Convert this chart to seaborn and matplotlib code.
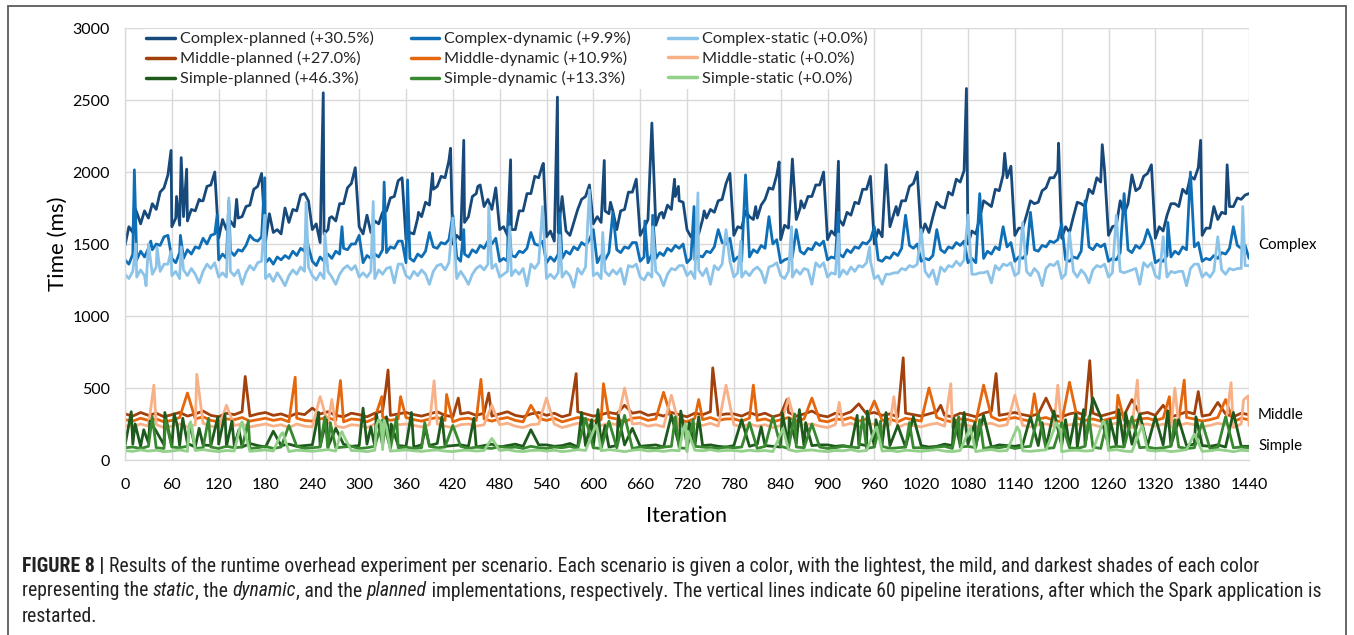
import matplotlib
matplotlib.use("Agg")
import matplotlib.pyplot as plt
import matplotlib.transforms as mtransforms
from matplotlib import font_manager
from matplotlib.patches import Rectangle
import pandas as pd
import seaborn as sns

W, H = 1354, 635

# ---------------------------------------------------------------- data
LABELS = ["Complex-planned (+30.5%)", "Complex-dynamic (+9.9%)", "Complex-static (+0.0%)",
          "Middle-planned (+27.0%)", "Middle-dynamic (+10.9%)", "Middle-static (+0.0%)",
          "Simple-planned (+46.3%)", "Simple-dynamic (+13.3%)", "Simple-static (+0.0%)"]
COLORS = ["#17497a", "#0f6fb6", "#8cc3e8",
          "#a3410c", "#e5670d", "#f8b087",
          "#1f5a1d", "#37882f", "#93d08a"]
X_TICKS = list(range(0, 1441, 60))
Y_TICKS = [0, 500, 1000, 1500, 2000, 2500, 3000]
GROUPS = ["Complex", "Middle", "Simple"]
GROUP_Y = [1495, 310, 100]

# complex series: one value every 5 iterations (0..1440)
CP_BASE = [
 1490,1620,1580,1720,1640,1730,1680,1780,1740,1860,1890,1980,
 1620,1680,1630,1690,1660,1740,1730,1810,1800,1900,1910,2000,
 1540,1670,1600,1660,1620,1680,1690,1760,1770,1880,1900,1990,
 1520,1620,1580,1600,1570,1660,1650,1740,1730,1840,1850,1800,
 1600,1640,1510,1570,1600,1690,1660,1780,1780,1890,1920,2030,
 1620,1570,1640,1580,1660,1640,1720,1730,1820,1830,1940,1960,
 1530,1580,1570,1680,1690,1790,1770,1880,1900,1970,1960,2080,
 1500,1560,1530,1650,1690,1830,1850,1910,1760,1810,1740,1890,
 1600,1620,1560,1600,1600,1730,1730,1850,1850,1970,1960,2050,
 1550,1590,1520,1580,1500,1590,1560,1650,1740,1810,1830,1910,
 1640,1690,1650,1730,1710,1730,1600,1730,1740,1860,1860,1950,
 1560,1610,1670,1660,1630,1710,1680,1770,1740,1830,1800,1790,
 1600,1550,1580,1570,1670,1680,1740,1720,1800,1810,1920,1990,
 1560,1620,1610,1730,1690,1670,1680,1770,1810,1890,1880,1980,
 1530,1630,1610,1690,1670,1750,1750,1830,1830,1910,1910,2000,
 1530,1590,1560,1670,1630,1700,1700,1790,1780,1880,1880,1970,
 1500,1600,1550,1640,1620,1710,1700,1800,1800,1900,1920,2000,
 1560,1640,1580,1690,1670,1760,1750,1860,1840,1950,1930,2010,
 1500,1590,1570,1680,1670,1780,1760,1880,1870,1980,1960,2040,
 1560,1610,1610,1700,1710,1780,1790,1870,1890,1960,1960,2010,
 1540,1620,1580,1690,1660,1780,1760,1880,1850,1960,1930,2010,
 1560,1620,1630,1700,1710,1780,1790,1870,1890,1970,1990,2050,
 1540,1620,1590,1700,1670,1780,1760,1880,1850,1970,1950,2030,
 1560,1610,1610,1670,1670,1720,1710,1760,1760,1820,1810,1840,
 1850]
CP_SPIKES = {12: 1760, 59: 2150, 66: 1830, 72: 2100, 79: 2020, 97: 1800, 143: 1810,
             185: 1710, 205: 1750, 254: 2550, 262: 1680, 310: 1700, 376: 1720,
             394: 1990, 417: 2165, 434: 2220, 452: 1900, 494: 2085, 505: 1730,
             536: 2060, 554: 2520, 560: 1830, 614: 2080, 622: 1790, 675: 2340,
             688: 1720, 704: 1950, 709: 1900, 742: 1730, 808: 1760, 838: 2070,
             855: 2090, 866: 1800, 914: 2075, 925: 1720, 975: 2050, 988: 1760,
             1040: 1790, 1078: 2580, 1100: 1800, 1127: 2130, 1160: 1800, 1196: 2200,
             1220: 1790, 1252: 2190, 1275: 1800, 1290: 1980, 1340: 1780, 1378: 2220,
             1395: 1760, 1412: 2050}

CD_BASE = [
 1390,1360,1430,1390,1450,1410,1470,1460,1500,1490,1550,1560,
 1400,1370,1440,1400,1460,1430,1480,1470,1520,1500,1560,1570,
 1390,1430,1400,1450,1420,1460,1450,1490,1480,1530,1520,1550,
 1370,1400,1360,1410,1390,1420,1400,1450,1420,1470,1450,1480,
 1380,1350,1410,1380,1430,1400,1450,1430,1470,1460,1500,1500,
 1390,1370,1420,1400,1430,1410,1460,1440,1480,1470,1520,1520,
 1370,1400,1380,1430,1410,1450,1440,1480,1470,1510,1500,1530,
 1380,1410,1380,1430,1410,1460,1440,1490,1470,1520,1500,1540,
 1380,1400,1380,1420,1410,1450,1440,1470,1460,1500,1490,1520,
 1370,1410,1380,1430,1400,1450,1430,1480,1460,1510,1490,1530,
 1390,1370,1420,1390,1440,1410,1460,1440,1480,1470,1510,1510,
 1380,1410,1370,1430,1400,1440,1420,1470,1450,1490,1470,1500,
 1370,1400,1390,1420,1410,1450,1440,1480,1470,1510,1500,1540,
 1380,1410,1380,1430,1410,1460,1440,1490,1470,1510,1500,1530,
 1370,1390,1400,1410,1400,1450,1430,1470,1460,1510,1490,1520,
 1390,1410,1400,1430,1410,1460,1440,1480,1470,1510,1500,1530,
 1360,1390,1380,1410,1400,1440,1420,1470,1450,1490,1470,1500,
 1380,1400,1390,1420,1410,1460,1440,1480,1470,1510,1490,1520,
 1370,1400,1370,1420,1400,1450,1430,1480,1460,1500,1480,1510,
 1380,1410,1400,1430,1420,1460,1450,1490,1480,1520,1510,1530,
 1360,1390,1380,1410,1400,1450,1430,1480,1460,1500,1480,1500,
 1380,1400,1390,1440,1410,1460,1440,1490,1470,1510,1500,1530,
 1370,1390,1380,1420,1410,1450,1430,1480,1460,1500,1480,1510,
 1380,1400,1390,1420,1400,1440,1430,1470,1450,1490,1470,1490,
 1400]
CD_SPIKES = {12: 2015, 33: 1520, 71: 1560, 100: 1540, 118: 1700, 133: 1800, 160: 1560,
             179: 1960, 232: 1560, 278: 1620, 300: 1560, 332: 1930, 362: 1945, 390: 1580,
             420: 1700, 434: 1600, 491: 1715, 520: 1580, 557: 1715, 600: 1600, 625: 1720,
             666: 1660, 676: 1700, 729: 1760, 760: 1600, 795: 1980, 825: 1690, 860: 1600,
             914: 1720, 960: 1620, 1000: 1700, 1040: 1600, 1095: 1850, 1125: 1620,
             1160: 1720, 1200: 1640, 1230: 1800, 1280: 1850, 1310: 1600, 1336: 1650,
             1365: 2000, 1420: 1620}

CS_BASE = [
 1290,1260,1310,1270,1320,1280,1330,1290,1340,1310,1360,1360,
 1280,1310,1260,1320,1280,1330,1290,1350,1310,1360,1330,1370,
 1270,1300,1270,1310,1280,1320,1330,1300,1350,1320,1370,1380,
 1260,1290,1240,1300,1260,1310,1280,1320,1290,1340,1310,1340,
 1280,1250,1300,1260,1310,1270,1320,1290,1330,1350,1320,1350,
 1270,1300,1270,1310,1260,1320,1290,1330,1340,1300,1360,1360,
 1280,1260,1310,1280,1320,1290,1340,1310,1350,1360,1320,1370,
 1290,1260,1310,1270,1320,1290,1330,1350,1320,1360,1330,1360,
 1270,1290,1310,1280,1320,1290,1330,1320,1360,1330,1370,1370,
 1260,1290,1260,1300,1270,1310,1280,1320,1330,1290,1340,1350,
 1280,1300,1260,1310,1280,1320,1290,1330,1320,1350,1340,1360,
 1270,1250,1300,1270,1310,1280,1320,1290,1330,1320,1350,1350,
 1280,1310,1260,1320,1280,1330,1300,1350,1320,1360,1350,1380,
 1270,1300,1270,1310,1280,1320,1340,1310,1350,1340,1350,1370,
 1280,1260,1310,1270,1320,1290,1330,1320,1350,1370,1340,1370,
 1270,1300,1290,1270,1320,1290,1340,1310,1350,1340,1370,1380,
 1260,1280,1280,1290,1290,1300,1300,1330,1320,1350,1340,1360,
 1280,1310,1270,1320,1290,1340,1310,1350,1340,1380,1350,1390,
 1270,1290,1290,1300,1300,1310,1310,1350,1320,1360,1350,1370,
 1280,1300,1260,1310,1280,1330,1300,1340,1330,1360,1350,1380,
 1260,1290,1260,1310,1270,1320,1290,1330,1320,1350,1340,1360,
 1270,1300,1270,1310,1300,1310,1320,1330,1330,1370,1340,1370,
 1280,1260,1300,1270,1310,1300,1310,1310,1340,1330,1360,1360,
 1270,1300,1270,1310,1280,1320,1290,1330,1320,1330,1330,1350,
 1350]
CS_SPIKES = {14: 1500, 27: 1210, 30: 1500, 41: 1480, 59: 1450, 72: 1480, 95: 1230,
             133: 1820, 150: 1220, 179: 1700, 205: 1210, 232: 1790, 256: 1575, 270: 1220,
             318: 1795, 345: 1230, 390: 1220, 420: 1680, 440: 1220, 466: 1760, 493: 1620,
             515: 1210, 535: 1760, 557: 1560, 575: 1200, 595: 1875, 612: 1580, 640: 1220,
             676: 1620, 690: 1210, 734: 1855, 750: 1220, 770: 1600, 789: 1520, 820: 1230,
             854: 1620, 880: 1220, 914: 1570, 954: 1480, 970: 1220, 1020: 1600,
             1040: 1220, 1080: 1700, 1110: 1230, 1150: 1650, 1175: 1210, 1210: 1580,
             1235: 1230, 1270: 1700, 1300: 1220, 1330: 1550, 1360: 1210, 1400: 1550,
             1432: 1760}

# middle / simple series: one value every 10 iterations (0..1440)
MP_BASE = [
 320,305,330,310,325,300, 315,330,305,320,340,310, 300,325,315,335,305,320,
 330,310,320,300,325,315, 305,320,335,310,300,325, 315,300,325,340,310,320,
 330,315,305,320,335,310, 300,320,330,310,325,305, 320,335,310,300,320,330,
 310,325,300,315,335,320, 305,315,330,320,300,325, 335,310,320,305,330,315,
 300,325,315,335,310,320, 320,305,330,310,325,300, 315,330,305,320,340,310,
 300,325,315,335,305,320, 330,310,320,300,325,315, 305,320,335,310,300,325,
 315,300,325,340,310,320, 330,315,305,320,335,310, 300,320,330,310,325,305,
 320,335,310,300,320,330, 310,325,300,315,335,320, 305,315,330,320,300,325,
 315]
MP_SPIKES = {154: 580, 240: 360, 334: 490, 337: 625, 427: 430, 466: 465, 578: 600,
             640: 380, 753: 640, 848: 420, 940: 390, 997: 710, 1045: 380, 1116: 600,
             1180: 430, 1236: 690, 1290: 420, 1330: 380, 1375: 475, 1400: 400}

MD_BASE = [
 280,270,290,275,285,265, 275,295,270,285,300,275, 265,285,280,295,270,280,
 290,275,285,265,290,275, 270,285,295,275,265,285, 280,265,290,300,275,285,
 295,280,270,285,295,275, 265,285,290,275,285,270, 285,295,275,265,285,290,
 275,290,265,280,295,285, 270,280,295,285,265,290, 295,275,285,270,290,280,
 265,290,280,295,275,285, 285,270,290,275,285,265, 280,295,270,285,300,275,
 265,285,280,295,270,285, 290,275,285,265,290,280, 270,285,295,275,265,285,
 280,265,290,300,275,285, 295,280,270,285,295,275, 265,285,290,275,285,270,
 285,295,275,265,285,290, 275,290,265,280,295,285, 270,280,295,285,265,290,
 280]
MD_SPIKES = {80: 465, 218: 575, 276: 552, 329: 440, 353: 440, 412: 455, 456: 560,
             520: 380, 613: 530, 690: 470, 735: 420, 805: 520, 880: 430, 960: 410,
             1030: 500, 1100: 520, 1165: 460, 1210: 540, 1272: 450, 1338: 440,
             1357: 555, 1410: 420}

MS_BASE = [
 240,230,250,235,245,225, 235,250,230,245,255,235, 225,245,240,250,230,240,
 250,235,245,225,250,235, 230,245,255,235,225,245, 240,225,250,255,235,245,
 250,240,230,245,250,235, 225,245,250,235,245,230, 245,255,235,225,245,250,
 235,250,225,240,255,245, 230,240,255,245,225,250, 255,235,245,230,250,240,
 225,250,240,255,235,245, 245,230,250,235,245,225, 240,255,230,245,250,235,
 225,245,240,255,230,245, 250,235,245,225,250,240, 230,245,255,235,225,245,
 240,225,250,255,235,245, 250,240,230,245,250,235, 225,245,250,235,245,230,
 245,255,235,225,245,250, 235,250,225,240,255,245, 230,240,255,245,225,250,
 240]
MS_SPIKES = {37: 520, 92: 595, 130: 380, 250: 440, 265: 420, 396: 550, 470: 380,
             540: 430, 640: 500, 700: 450, 770: 520, 850: 430, 915: 400, 985: 440,
             1058: 530, 1140: 450, 1195: 520, 1297: 555, 1345: 500, 1417: 537,
             1433: 417, 1439: 445}

SP_BASE = [
 100,110,95,120,90,105, 95,100,115,90,105,100, 110,95,100,90,115,100,
 90,105,100,110,95,100, 105,95,90,100,110,95, 100,110,95,105,90,100,
 95,90,105,100,115,95, 100,105,95,90,100,110, 90,100,110,95,100,105,
 105,95,100,115,90,100, 100,110,90,100,105,95, 95,100,105,90,110,100,
 110,95,100,105,95,90, 100,105,95,110,100,95, 90,100,115,95,100,105,
 105,95,100,90,110,100, 95,110,100,105,90,100, 100,90,95,110,100,105,
 110,100,95,90,105,100, 95,105,110,100,90,100, 100,95,90,105,110,95,
 105,100,95,110,90,100, 90,105,100,95,100,110, 100,95,105,90,100,95,
 95]
SP_SPIKES = {8: 335, 13: 250, 24: 210, 32: 270, 40: 200, 51: 330, 63: 320, 67: 240,
             74: 290, 95: 220, 119: 300, 128: 320, 137: 270, 146: 210, 190: 200,
             248: 330, 258: 280, 270: 220, 305: 360, 315: 230, 322: 320, 335: 300,
             341: 250, 367: 330, 385: 220, 406: 300, 447: 290, 520: 210, 585: 330,
             598: 280, 606: 350, 615: 240, 632: 310, 650: 220, 700: 310, 712: 340,
             723: 260, 735: 300, 790: 280, 815: 230, 842: 330, 851: 290, 864: 350,
             872: 260, 938: 310, 951: 340, 962: 280, 975: 330, 990: 240, 1010: 300,
             1062: 290, 1075: 330, 1089: 260, 1100: 310, 1160: 300, 1175: 260,
             1190: 340, 1205: 280, 1218: 320, 1228: 350, 1240: 430, 1250: 300,
             1262: 280, 1273: 350, 1282: 330, 1300: 320, 1320: 300, 1336: 340,
             1350: 280, 1372: 300, 1420: 330}

SD_BASE = [
 85,90,80,95,85,80, 90,85,95,80,85,90, 80,95,85,90,80,85,
 95,80,90,85,95,80, 85,90,80,85,90,95, 80,85,95,90,80,85,
 90,80,85,95,85,90, 85,95,80,90,85,80, 95,85,90,80,95,85,
 80,90,85,95,80,90, 85,80,95,85,90,80, 90,85,80,90,95,85,
 80,95,90,85,80,90, 85,90,85,80,95,85, 95,80,90,85,80,90,
 80,85,95,90,85,80, 90,95,80,85,90,85, 85,80,90,95,80,90,
 95,85,80,90,85,95, 80,90,95,85,80,85, 90,85,80,95,90,80,
 85,95,90,80,85,90, 80,85,95,90,80,85, 90,80,85,95,85,90,
 85]
SD_SPIKES = {35: 300, 52: 280, 83: 250, 107: 290, 158: 270, 210: 240, 256: 300,
             263: 260, 330: 280, 348: 300, 384: 260, 420: 240, 590: 290, 620: 270,
             640: 310, 705: 300, 728: 280, 800: 260, 830: 300, 858: 320, 880: 250,
             945: 300, 968: 270, 1005: 260, 1068: 300, 1095: 280, 1170: 320,
             1200: 260, 1235: 300, 1258: 270, 1290: 300, 1345: 280, 1380: 260,
             1410: 300}

SS_BASE = [
 65,60,70,62,68,58, 62,70,60,66,72,64, 58,66,62,70,60,65,
 70,62,66,58,68,64, 60,66,72,62,58,66, 64,58,68,72,62,66,
 70,64,60,66,70,62, 58,66,68,62,66,60, 66,72,62,58,66,68,
 62,68,58,64,72,66, 60,64,72,66,58,68, 72,62,66,60,68,64,
 58,68,64,72,62,66, 66,60,68,62,66,58, 64,72,60,66,70,62,
 58,66,64,72,60,66, 68,62,66,58,68,64, 60,66,72,62,58,66,
 64,58,68,72,62,66, 70,64,60,66,70,62, 58,66,68,62,66,60,
 66,72,62,58,66,68, 62,68,58,64,72,66, 60,64,72,66,58,68,
 64]
SS_SPIKES = {82: 230, 84: 265, 86: 220, 148: 240, 150: 265, 152: 220, 200: 180,
             202: 190, 276: 180, 278: 197, 280: 170, 322: 240, 325: 280, 328: 260,
             332: 275, 335: 230, 470: 150, 600: 200, 603: 240, 606: 190, 715: 210,
             718: 250, 721: 200, 840: 180, 843: 220, 960: 200, 963: 230, 1080: 190,
             1083: 220, 1140: 190, 1143: 230, 1146: 200, 1190: 210, 1193: 260,
             1196: 230, 1199: 200, 1250: 220, 1253: 270, 1256: 240, 1300: 200,
             1303: 240, 1370: 180}

BASES = [CP_BASE, CD_BASE, CS_BASE, MP_BASE, MD_BASE, MS_BASE, SP_BASE, SD_BASE, SS_BASE]
STEPS = [5, 5, 5, 10, 10, 10, 10, 10, 10]
SPIKES = [CP_SPIKES, CD_SPIKES, CS_SPIKES, MP_SPIKES, MD_SPIKES, MS_SPIKES,
          SP_SPIKES, SD_SPIKES, SS_SPIKES]


def series_points(base, step, spikes):
    xs = list(range(0, 1441, step))
    if len(xs) != len(base):
        raise ValueError(f"length mismatch {len(xs)} vs {len(base)}")
    pts = dict(zip(xs, base))
    pts.update(spikes)
    return sorted(pts.items())


rows = []
for label, base, step, spikes in zip(LABELS, BASES, STEPS, SPIKES):
    for it, val in series_points(base, step, spikes):
        rows.append((label, it, val))
df = pd.DataFrame(rows, columns=["Series", "Iteration", "Time"])

# ---------------------------------------------------------------- fonts


def font_path(**kw):
    try:
        return font_manager.findfont(font_manager.FontProperties(**kw),
                                     fallback_to_default=False)
    except Exception:
        return None


def pick_condensed():
    for fam in ["Liberation Sans Narrow", "Roboto Condensed", "Open Sans Condensed",
                "Noto Sans Condensed", "DejaVu Sans Condensed"]:
        if font_path(family=fam):
            return {"family": [fam, "DejaVu Sans"]}
    for fam in ["Noto Sans", "DejaVu Sans", "Open Sans", "Roboto", "Liberation Sans"]:
        p = font_path(family=fam, stretch="condensed")
        if p and ("condensed" in p.lower() or "narrow" in p.lower()):
            return {"family": [fam, "DejaVu Sans"], "stretch": "condensed"}
    return {"family": ["Liberation Sans", "DejaVu Sans"]}


sns.set_theme(style="white")
CHART_FONT = "Lato" if font_path(family="Lato") else "Liberation Sans"
CAP_FONT = pick_condensed()
plt.rcParams["font.family"] = [CHART_FONT, "DejaVu Sans"]

# ---------------------------------------------------------------- plot
fig = plt.figure(figsize=(W / 100, H / 100), dpi=100)
fig.patch.set_facecolor("white")
ax = fig.add_axes([125 / W, 1 - 460 / H, 1124 / W, 432 / H])
ax.set_facecolor("white")

sns.lineplot(data=df, x="Iteration", y="Time", hue="Series", hue_order=LABELS,
             palette=COLORS, estimator=None, sort=False, linewidth=2.0, ax=ax,
             legend=True)

ax.set_xlim(0, 1440)
ax.set_ylim(0, 3000)
ax.set_xticks(X_TICKS)
ax.set_yticks(Y_TICKS)
ax.grid(True, color="#d9d9d9", linewidth=1.0)
ax.set_axisbelow(True)
for s in ["top", "right"]:
    ax.spines[s].set_visible(False)
for s in ["left", "bottom"]:
    ax.spines[s].set_color("#d9d9d9")
    ax.spines[s].set_linewidth(1.0)
ax.tick_params(length=0, labelsize=11.5, colors="black")
ax.tick_params(axis="x", pad=13)
ax.tick_params(axis="y", pad=11)
ax.set_xlabel("Iteration", fontsize=15.5, labelpad=10, color="black")
ax.set_ylabel("Time (ms)", fontsize=16, labelpad=3, color="black")

handles, labels = ax.get_legend_handles_labels()
hmap = dict(zip(labels, handles))
order = [0, 3, 6, 1, 4, 7, 2, 5, 8]
leg = ax.legend([hmap[LABELS[i]] for i in order], [LABELS[i] for i in order],
                ncol=3, loc="upper left", bbox_to_anchor=(144 / W, 1 - 29 / H),
                bbox_transform=fig.transFigure, frameon=True, facecolor="white",
                edgecolor="none", framealpha=1, fontsize=11.7, handlelength=1.75,
                handletextpad=0.3, columnspacing=2.3, labelspacing=0.3,
                borderpad=0.15, borderaxespad=0)
for ln in leg.get_lines():
    ln.set_linewidth(2.5)

tr = mtransforms.blended_transform_factory(ax.transAxes, ax.transData)
for name, yv in zip(GROUPS, GROUP_Y):
    ax.text(1.008, yv, name, transform=tr, ha="left", va="center", fontsize=10.8,
            color="black")

# ---------------------------------------------------------------- caption
CAPTION = [
    [("FIGURE 8 | ", "bold", "normal"),
     ("Results of the runtime overhead experiment per scenario. Each scenario is given a "
      "color, with the lightest, the mild, and darkest shades of each color", "normal", "normal")],
    [("representing the ", "normal", "normal"), ("static", "normal", "italic"),
     (", the ", "normal", "normal"), ("dynamic", "normal", "italic"),
     (", and the ", "normal", "normal"), ("planned", "normal", "italic"),
     (" implementations, respectively. The vertical lines indicate 60 pipeline iterations, "
      "after which the Spark application is", "normal", "normal")],
    [("restarted.", "normal", "normal")],
]
CAP_Y = [566, 591, 616]
CAP_X = 22

renderer = fig.canvas.get_renderer()


def text_width(txt, size, weight, style):
    t1 = fig.text(0, 0, "|" + txt + "|", fontsize=size, fontweight=weight,
                  fontstyle=style, **CAP_FONT)
    t2 = fig.text(0, 0, "||", fontsize=size, fontweight=weight,
                  fontstyle=style, **CAP_FONT)
    w = t1.get_window_extent(renderer).width - t2.get_window_extent(renderer).width
    t1.remove()
    t2.remove()
    return w


ref = sum(text_width(t, 10, wgt, sty) for t, wgt, sty in CAPTION[1])
cap_size = 10 * (1312 - CAP_X) / ref

for line, yp in zip(CAPTION, CAP_Y):
    x = CAP_X
    for txt, wgt, sty in line:
        fig.text(x / W, 1 - yp / H, txt, fontsize=cap_size, fontweight=wgt,
                 fontstyle=sty, ha="left", va="center", color="#222222", **CAP_FONT)
        x += text_width(txt, cap_size, wgt, sty)

# outer frame
fig.patches.append(Rectangle((8 / W, -0.1), (1346 - 8) / W, 1.1 - 6 / H,
                             transform=fig.transFigure, fill=False,
                             edgecolor="#5a5a5a", linewidth=1.3, clip_on=False))

fig.savefig("out.png", dpi=100)
